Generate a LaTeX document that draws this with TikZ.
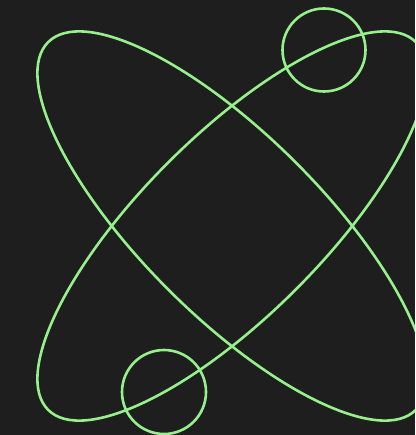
\documentclass[tikz,border=0pt]{standalone}
\definecolor{bgc}{HTML}{1E1E1E}
\definecolor{lineg}{HTML}{96F08C}
\begin{document}
\begin{tikzpicture}[shapeline/.style={draw=lineg,line width=2.6pt}]
\useasboundingbox (0pt,0pt) rectangle (415pt,-435pt);
\fill[bgc] (0pt,0pt) rectangle (415pt,-435pt);
\clip (0pt,0pt) rectangle (415pt,-435pt);
\begin{scope}[shift={(232pt,-226pt)}]
  \draw[shapeline,rotate=-45] (0,0) ellipse (260pt and 90pt);
  \draw[shapeline,rotate=45] (0,0) ellipse (260pt and 90pt);
\end{scope}
\draw[shapeline] (324pt,-50pt) circle (41.5pt);
\draw[shapeline] (164pt,-392pt) circle (42pt);
\end{tikzpicture}
\end{document}
